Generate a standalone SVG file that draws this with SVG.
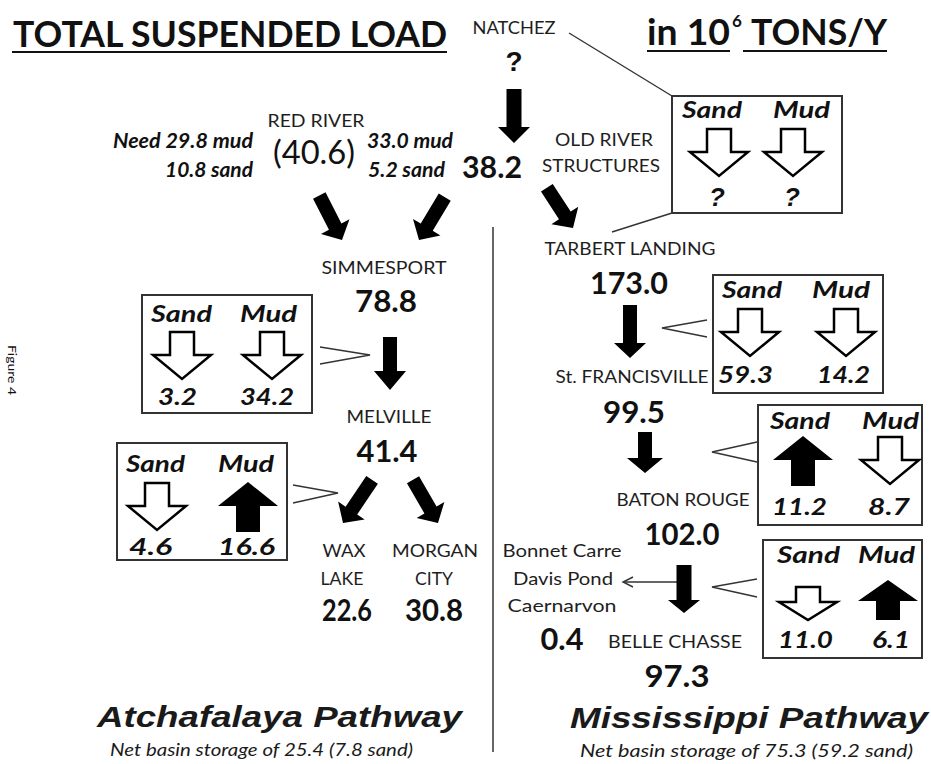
<svg xmlns="http://www.w3.org/2000/svg" width="931" height="764" viewBox="0 0 931 764">
<style>
text{font-family:Lato,"Liberation Sans",sans-serif;fill:#111}
.t{font-size:36px;font-weight:bold}
.l{font-size:17px;text-anchor:middle;fill:#1e1e1e}
.n{font-size:31px;font-weight:bold;text-anchor:middle}
.sm{font-size:23px;font-weight:bold;font-style:italic}
.v{font-size:22px;font-weight:bold;font-style:italic}
.q{font-size:20px;font-weight:bold;font-style:italic}
.qm{font-family:"Liberation Sans",Arial,sans-serif;font-weight:bold;text-anchor:middle}
.pw{font-family:"Liberation Sans",Arial,sans-serif;font-size:30px;font-weight:bold;font-style:italic;fill:#1a1a1a}
.nt{font-size:17px;font-style:italic;fill:#1a1a1a}
.box{fill:none;stroke:#333;stroke-width:2}
.thin{fill:none;stroke:#333;stroke-width:1.4}
.blk{fill:#000}
.hol{fill:#fff;stroke:#000;stroke-width:2.5;stroke-linejoin:miter}
</style>
<defs>
<path id="hd" class="hol" d="M-12,0 H12 V23 H29 L0,47 L-29,23 H-12 Z"/>
<path id="hds" class="hol" d="M-12,0 H12 V15 H29 L0,33 L-29,15 H-12 Z"/>
<path id="fu" class="blk" d="M0,0 L30,24 H12 V50 H-12 V24 H-30 Z"/>
<path id="fus" class="blk" d="M0,0 L30,21 H12 V40 H-12 V21 H-30 Z"/>
</defs>
<rect width="931" height="764" fill="#fff"/>

<g id="title">
<text class="t" x="13" y="47" textLength="434" lengthAdjust="spacingAndGlyphs">TOTAL SUSPENDED LOAD</text>
<line x1="12" y1="52" x2="447" y2="52" stroke="#111" stroke-width="2"/>
<text class="t" x="647" y="45" textLength="83" lengthAdjust="spacingAndGlyphs">in 10</text>
<text x="737" y="27" font-size="17" font-weight="bold" text-anchor="middle">6</text>
<text class="t" x="751" y="45" textLength="136" lengthAdjust="spacingAndGlyphs">TONS/Y</text>
<line x1="647" y1="51" x2="730" y2="51" stroke="#111" stroke-width="2"/>
<line x1="743" y1="51" x2="887" y2="51" stroke="#111" stroke-width="2"/>
</g>

<g id="figure-label">
<text transform="translate(8,345) rotate(90)" font-family="Liberation Serif,serif" font-size="11" fill="#666" textLength="50" lengthAdjust="spacingAndGlyphs">Figure 4</text>
</g>

<g id="connectors">
<line x1="569" y1="33" x2="672" y2="96" class="thin"/>
<line x1="672" y1="213" x2="612" y2="232" class="thin"/>
<line x1="493" y1="227" x2="493" y2="752" stroke="#333" stroke-width="1.5"/>
<polyline class="thin" points="320,347 370,355 320,364"/>
<polyline class="thin" points="293,485 338,493 293,503"/>
<polyline class="thin" points="707,320 662,328 707,337"/>
<polyline class="thin" points="757,442 712,452 757,462"/>
<polyline class="thin" points="757,579 712,587 757,597"/>
<line x1="680" y1="582" x2="624" y2="582" class="thin"/>
<polyline class="thin" points="633,577 623,582 633,587"/>
<path class="blk" d="M506.5,89 H521.5 V127 H530 L514,143 L498,127 H506.5 Z"/>
<path class="blk" d="M623,305 H637 V343 H646 L630,358 L614,343 H623 Z"/>
<path class="blk" d="M383,337 H397 V371 H406 L390,390 L374,371 H383 Z"/>
<path class="blk" d="M638,432 H652 V458 H663 L645,473 L627,458 H638 Z"/>
<path class="blk" d="M676.5,565 H691.5 V600 H700 L684,613 L668,600 H676.5 Z"/>
<path class="blk" transform="translate(342,240) rotate(-27)" d="M-7,-50 H7 V-15 H16 L0,0 L-16,-15 H-7 Z"/>
<path class="blk" transform="translate(419,240) rotate(31)" d="M-7,-50 H7 V-15 H16 L0,0 L-16,-15 H-7 Z"/>
<path class="blk" transform="translate(573,228) rotate(-33)" d="M-7,-48 H7 V-15 H16 L0,0 L-16,-15 H-7 Z"/>
<path class="blk" transform="translate(343,523) rotate(34)" d="M-7,-52 H7 V-15 H16 L0,0 L-16,-15 H-7 Z"/>
<path class="blk" transform="translate(438,523) rotate(-30)" d="M-7,-50 H7 V-15 H16 L0,0 L-16,-15 H-7 Z"/>
</g>

<g id="natchez">
<text class="l" x="514" y="34" textLength="83" lengthAdjust="spacingAndGlyphs">NATCHEZ</text>
<text class="qm" x="514" y="71" font-size="28">?</text>
</g>

<g id="old-river">
<text class="n" x="492" y="178" textLength="60" lengthAdjust="spacingAndGlyphs">38.2</text>
<text class="l" x="604" y="146" textLength="98" lengthAdjust="spacingAndGlyphs">OLD RIVER</text>
<text class="l" x="601" y="172" textLength="118" lengthAdjust="spacingAndGlyphs">STRUCTURES</text>
</g>

<g id="natchez-box">
<rect class="box" x="672" y="96" width="170" height="117"/>
<text class="sm" x="682" y="118" textLength="60" lengthAdjust="spacingAndGlyphs">Sand</text>
<text class="sm" x="773" y="118" textLength="57" lengthAdjust="spacingAndGlyphs">Mud</text>
<use href="#hd" x="719" y="129"/>
<use href="#hd" x="793" y="129"/>
<text class="qm" x="717" y="206" font-size="26" font-style="italic">?</text>
<text class="qm" x="792" y="206" font-size="26" font-style="italic">?</text>
</g>

<g id="red-river">
<text class="l" x="316" y="127" textLength="97" lengthAdjust="spacingAndGlyphs">RED RIVER</text>
<text x="314" y="164" font-size="33" text-anchor="middle" textLength="82" lengthAdjust="spacingAndGlyphs">(40.6)</text>
<text class="q" x="253" y="148" text-anchor="end" textLength="140" lengthAdjust="spacingAndGlyphs">Need 29.8 mud</text>
<text class="q" x="253" y="177" text-anchor="end" textLength="88" lengthAdjust="spacingAndGlyphs">10.8 sand</text>
<text class="q" x="367" y="148" textLength="86" lengthAdjust="spacingAndGlyphs">33.0 mud</text>
<text class="q" x="368" y="177" textLength="77" lengthAdjust="spacingAndGlyphs">5.2 sand</text>
</g>

<g id="simmesport">
<text class="l" x="384" y="274" textLength="125" lengthAdjust="spacingAndGlyphs">SIMMESPORT</text>
<text class="n" x="386" y="312" textLength="62" lengthAdjust="spacingAndGlyphs">78.8</text>
</g>

<g id="simmesport-box">
<rect class="box" x="142" y="295" width="170" height="118"/>
<text class="sm" x="151" y="322" textLength="61" lengthAdjust="spacingAndGlyphs">Sand</text>
<text class="sm" x="240" y="322" textLength="57" lengthAdjust="spacingAndGlyphs">Mud</text>
<use href="#hd" x="182" y="332"/>
<use href="#hd" x="272" y="332"/>
<text class="v" x="158" y="405" textLength="39" lengthAdjust="spacingAndGlyphs">3.2</text>
<text class="v" x="240" y="405" textLength="54" lengthAdjust="spacingAndGlyphs">34.2</text>
</g>

<g id="melville">
<text class="l" x="389" y="423" textLength="85" lengthAdjust="spacingAndGlyphs">MELVILLE</text>
<text class="n" x="387" y="462" textLength="61" lengthAdjust="spacingAndGlyphs">41.4</text>
</g>

<g id="melville-box">
<rect class="box" x="117" y="443" width="170" height="117"/>
<text class="sm" x="126" y="472" textLength="59" lengthAdjust="spacingAndGlyphs">Sand</text>
<text class="sm" x="218" y="472" textLength="56" lengthAdjust="spacingAndGlyphs">Mud</text>
<use href="#hd" x="157" y="483"/>
<use href="#fu" x="248" y="482"/>
<text class="v" x="129" y="555" textLength="43" lengthAdjust="spacingAndGlyphs">4.6</text>
<text class="v" x="218" y="555" textLength="57" lengthAdjust="spacingAndGlyphs">16.6</text>
</g>

<g id="wax-lake">
<text class="l" x="344" y="557" textLength="43" lengthAdjust="spacingAndGlyphs">WAX</text>
<text class="l" x="342" y="585" textLength="43" lengthAdjust="spacingAndGlyphs">LAKE</text>
<text class="n" x="347" y="621" textLength="50" lengthAdjust="spacingAndGlyphs">22.6</text>
</g>

<g id="morgan-city">
<text class="l" x="435" y="557" textLength="86" lengthAdjust="spacingAndGlyphs">MORGAN</text>
<text class="l" x="434" y="585" textLength="38" lengthAdjust="spacingAndGlyphs">CITY</text>
<text class="n" x="434" y="621" textLength="58" lengthAdjust="spacingAndGlyphs">30.8</text>
</g>

<g id="tarbert-landing">
<text class="l" x="630" y="255" textLength="171" lengthAdjust="spacingAndGlyphs">TARBERT LANDING</text>
<text class="n" x="629" y="294" textLength="78" lengthAdjust="spacingAndGlyphs">173.0</text>
</g>

<g id="tarbert-box">
<rect class="box" x="713" y="275" width="170" height="118"/>
<text class="sm" x="722" y="298" textLength="60" lengthAdjust="spacingAndGlyphs">Sand</text>
<text class="sm" x="812" y="298" textLength="58" lengthAdjust="spacingAndGlyphs">Mud</text>
<use href="#hd" x="750" y="309"/>
<use href="#hd" x="846" y="309"/>
<text class="v" x="718" y="383" textLength="55" lengthAdjust="spacingAndGlyphs">59.3</text>
<text class="v" x="817" y="383" textLength="53" lengthAdjust="spacingAndGlyphs">14.2</text>
</g>

<g id="st-francisville">
<text class="l" x="632" y="383" textLength="153" lengthAdjust="spacingAndGlyphs">St. FRANCISVILLE</text>
<text class="n" x="634" y="423" textLength="62" lengthAdjust="spacingAndGlyphs">99.5</text>
</g>

<g id="baton-rouge-box">
<rect class="box" x="758" y="405" width="164" height="120"/>
<text class="sm" x="770" y="429" textLength="60" lengthAdjust="spacingAndGlyphs">Sand</text>
<text class="sm" x="862" y="429" textLength="57" lengthAdjust="spacingAndGlyphs">Mud</text>
<use href="#fu" x="803" y="436"/>
<use href="#hd" x="890" y="437"/>
<text class="v" x="772" y="515" textLength="55" lengthAdjust="spacingAndGlyphs">11.2</text>
<text class="v" x="868" y="515" textLength="42" lengthAdjust="spacingAndGlyphs">8.7</text>
</g>

<g id="baton-rouge">
<text class="l" x="683" y="506" textLength="133" lengthAdjust="spacingAndGlyphs">BATON ROUGE</text>
<text class="n" x="682" y="545" textLength="75" lengthAdjust="spacingAndGlyphs">102.0</text>
</g>

<g id="diversions">
<text class="l" x="562" y="557" textLength="119" lengthAdjust="spacingAndGlyphs">Bonnet Carre</text>
<text class="l" x="563" y="585" textLength="100" lengthAdjust="spacingAndGlyphs">Davis Pond</text>
<text class="l" x="562" y="612" textLength="109" lengthAdjust="spacingAndGlyphs">Caernarvon</text>
<text class="n" x="562" y="650" textLength="43" lengthAdjust="spacingAndGlyphs">0.4</text>
</g>

<g id="belle-chasse-box">
<rect class="box" x="763" y="540" width="159" height="118"/>
<text class="sm" x="777" y="563" textLength="63" lengthAdjust="spacingAndGlyphs">Sand</text>
<text class="sm" x="858" y="563" textLength="57" lengthAdjust="spacingAndGlyphs">Mud</text>
<use href="#hds" x="808" y="587"/>
<use href="#fus" x="888" y="580"/>
<text class="v" x="778" y="648" textLength="55" lengthAdjust="spacingAndGlyphs">11.0</text>
<text class="v" x="872" y="648" textLength="38" lengthAdjust="spacingAndGlyphs">6.1</text>
</g>

<g id="belle-chasse">
<text class="l" x="675" y="648" textLength="134" lengthAdjust="spacingAndGlyphs">BELLE CHASSE</text>
<text class="n" x="677" y="687" textLength="65" lengthAdjust="spacingAndGlyphs">97.3</text>
</g>

<g id="atchafalaya-pathway">
<text class="pw" x="97" y="727" textLength="365" lengthAdjust="spacingAndGlyphs">Atchafalaya Pathway</text>
<text class="nt" x="110" y="756" textLength="303" lengthAdjust="spacingAndGlyphs">Net basin storage of 25.4 (7.8 sand)</text>
</g>

<g id="mississippi-pathway">
<text class="pw" x="570" y="728" textLength="358" lengthAdjust="spacingAndGlyphs">Mississippi Pathway</text>
<text class="nt" x="580" y="757" textLength="333" lengthAdjust="spacingAndGlyphs">Net basin storage of 75.3 (59.2 sand)</text>
</g>
</svg>
